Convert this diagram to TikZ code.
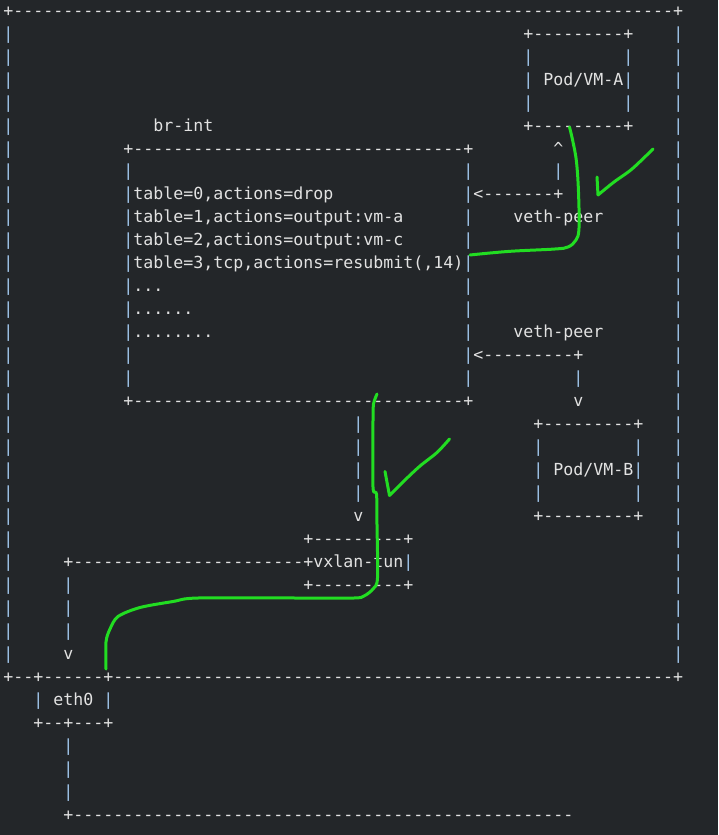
\documentclass[tikz,border=0pt]{standalone}
\usepackage{fontspec}
\setmonofont{DejaVu Sans Mono}
\definecolor{bg}{HTML}{232629}
\definecolor{fg}{HTML}{E2E2E2}
\definecolor{barc}{HTML}{A2C8EE}
\definecolor{pen}{HTML}{22DD22}
\ExplSyntaxOn
\cs_new:Npn \myrep #1#2 { \prg_replicate:nn {#1} {#2} }
\ExplSyntaxOff
\newcommand\B{\textcolor{barc}{|}}
\newcommand\tok[4]{\node[txt] (#1) at ({3.3+10*#2},{16.2+22.97*#3}) {#4};}
\begin{document}
\begin{tikzpicture}[x=1pt,y=-1pt,
  txt/.style={anchor=base west, inner sep=0pt, outer sep=0pt, text=fg,
    font=\ttfamily\fontsize{16.61}{20}\selectfont},
  ink/.style={draw=pen, line width=3pt, line cap=round, line join=round}]
\fill[bg] (0,0) rectangle (718,835);
\useasboundingbox (0,0) rectangle (718,835);
% outer frame
\tok{top}{0}{0}{+\myrep{66}{-}+}
\foreach \r in {1,...,28} {
  \node[txt] (L\r) at (3.3,{16.2+22.97*\r}) {\B};
  \node[txt] (R\r) at (673.3,{16.2+22.97*\r}) {\B};
}
% Pod/VM-A
\tok{pa1}{52}{1}{+\myrep{9}{-}+}
\tok{pa2l}{52}{2}{\B}\tok{pa2r}{62}{2}{\B}
\tok{pa3l}{52}{3}{\B}\tok{pa3}{54}{3}{Pod/VM-A}\tok{pa3r}{62}{3}{\B}
\tok{pa4l}{52}{4}{\B}\tok{pa4r}{62}{4}{\B}
\tok{pa5}{52}{5}{+\myrep{9}{-}+}
% br-int
\tok{brname}{15}{5}{br-int}
\tok{br6}{12}{6}{+\myrep{33}{-}+}
\tok{up6}{55}{6}{\textasciicircum}
\tok{b7l}{12}{7}{\B}\tok{b7r}{46}{7}{\B}\tok{up7}{55}{7}{\B}
\tok{b8l}{12}{8}{\B}\tok{t0}{13}{8}{table=0,actions=drop}\tok{b8r}{46}{8}{\B}
\tok{arA}{47}{8}{<\myrep{7}{-}+}
\tok{b9l}{12}{9}{\B}\tok{t1}{13}{9}{table=1,actions=output:vm-a}\tok{b9r}{46}{9}{\B}
\tok{vpA}{51}{9}{veth-peer}
\tok{b10l}{12}{10}{\B}\tok{t2}{13}{10}{table=2,actions=output:vm-c}\tok{b10r}{46}{10}{\B}
\tok{b11l}{12}{11}{\B}\tok{t3}{13}{11}{table=3,tcp,actions=resubmit(,14)}\tok{b11r}{46}{11}{\B}
\tok{b12l}{12}{12}{\B}\tok{d1}{13}{12}{...}\tok{b12r}{46}{12}{\B}
\tok{b13l}{12}{13}{\B}\tok{d2}{13}{13}{......}\tok{b13r}{46}{13}{\B}
\tok{b14l}{12}{14}{\B}\tok{d3}{13}{14}{........}\tok{b14r}{46}{14}{\B}
\tok{vpB}{51}{14}{veth-peer}
\tok{b15l}{12}{15}{\B}\tok{b15r}{46}{15}{\B}
\tok{arB}{47}{15}{<\myrep{9}{-}+}
\tok{b16l}{12}{16}{\B}\tok{b16r}{46}{16}{\B}\tok{dn16}{57}{16}{\B}
\tok{br17}{12}{17}{+\myrep{33}{-}+}
\tok{dn17}{57}{17}{v}
% link br-int -> vxlan
\tok{l18}{35}{18}{\B}\tok{l19}{35}{19}{\B}\tok{l20}{35}{20}{\B}\tok{l21}{35}{21}{\B}
\tok{l22}{35}{22}{v}
% Pod/VM-B
\tok{pb18}{53}{18}{+\myrep{9}{-}+}
\tok{pb19l}{53}{19}{\B}\tok{pb19r}{63}{19}{\B}
\tok{pb20l}{53}{20}{\B}\tok{pb20}{55}{20}{Pod/VM-B}\tok{pb20r}{63}{20}{\B}
\tok{pb21l}{53}{21}{\B}\tok{pb21r}{63}{21}{\B}
\tok{pb22}{53}{22}{+\myrep{9}{-}+}
% vxlan-tun
\tok{vx23}{30}{23}{+\myrep{9}{-}+}
\tok{vx24a}{6}{24}{+\myrep{23}{-}+}
\tok{vx24}{31}{24}{vxlan-tun}\tok{vx24r}{40}{24}{\B}
\tok{vx25}{30}{25}{+\myrep{9}{-}+}
\tok{e25}{6}{25}{\B}\tok{e26}{6}{26}{\B}\tok{e27}{6}{27}{\B}
\tok{e28}{6}{28}{v}
% bottom of frame + eth0
\tok{bot}{0}{29}{+--+\myrep{6}{-}+\myrep{56}{-}+}
\tok{eth30l}{3}{30}{\B}\tok{eth}{5}{30}{eth0}\tok{eth30r}{10}{30}{\B}
\tok{eth31}{3}{31}{+--+---+}
\tok{w32}{6}{32}{\B}\tok{w33}{6}{33}{\B}\tok{w34}{6}{34}{\B}
\tok{w35}{6}{35}{+\myrep{50}{-}}
% green hand-drawn annotations
\draw[ink] plot[smooth, tension=0.6] coordinates {(569.5,127) (573,142) (576.5,162) (578.5,192) (579,228) (576,240) (568,247) (555,249) (515,251) (490,253) (470,255)};
\draw[ink] (597,177) -- (598,195) plot[smooth, tension=0.5] coordinates {(598,195) (614,182) (632,169) (653,149)};
\draw[ink] plot[smooth, tension=0.5] coordinates {(377,394) (373.5,404) (373,420) (373,487) (376.5,494) (377,525) (377.5,578) (373,589) (364,596) (354,598) (300,598) (198,598) (173,601.5) (140,607.5) (118,616.5) (110,629) (106,642) (106,669)};
\draw[ink] (385,471.5) -- (389.5,495.5) plot[smooth, tension=0.5] coordinates {(389.5,495.5) (405,480) (420,466) (437,452.5) (449.5,439)};
\end{tikzpicture}
\end{document}
